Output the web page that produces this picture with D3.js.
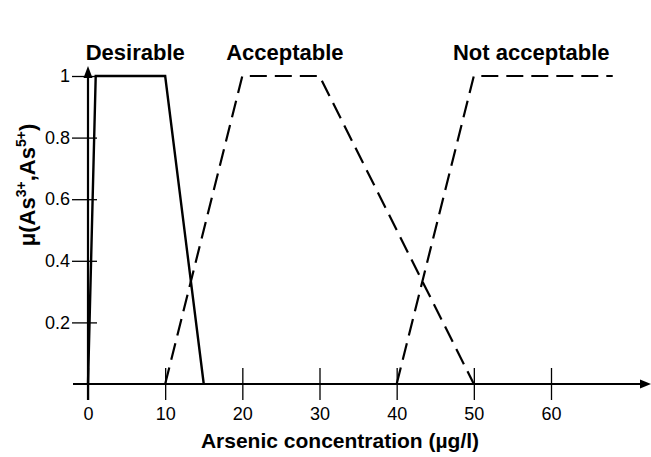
<!DOCTYPE html>
<meta charset="utf-8">
<style>
    body { margin: 0; background: #fff; }
    text { font-family: "Liberation Sans", Arial, sans-serif; fill: #000; }
    .tick text { font-size: 18px; }
    .lbl { font-size: 22px; font-weight: bold; }
</style>
<body>
<script src="https://cdn.jsdelivr.net/npm/d3@7"></script>
<script>

    // tick values and membership functions (As concentration, membership)
    var xTicks = [0, 10, 20, 30, 40, 50, 60],
        yTicks = [0.2, 0.4, 0.6, 0.8, 1];

    var desirable = [[0, 0], [1, 1], [10, 1], [15, 0]],
        acceptable = [[10, 0], [20, 1], [30, 1], [50, 0]],
        notAcceptable = [[40, 0], [50, 1], [68, 1]];

    var setNames = ["Desirable", "Acceptable", "Not acceptable"];

    var width = 651, height = 457;

    var x = d3.scaleLinear().domain([0, 60]).range([88, 551]),
        y = d3.scaleLinear().domain([0, 1]).range([384, 76]);

    var svg = d3.select("body").append("svg")
        .attr("width", width)
        .attr("height", height);

    // x axis: ticks cross the axis line
    var gx = svg.append("g")
        .attr("transform", "translate(0," + y(0) + ")")
        .call(d3.axisBottom(x).tickValues(xTicks).tickSize(0).tickPadding(0));
    gx.select(".domain").remove();
    gx.selectAll(".tick line").attr("y1", -16).attr("y2", 16)
        .attr("stroke", "#000").attr("stroke-width", 1.3);
    gx.selectAll(".tick text").attr("y", 36).attr("dy", null);

    // y axis
    var gy = svg.append("g")
        .attr("transform", "translate(" + x(0) + ",0)")
        .call(d3.axisLeft(y).tickValues(yTicks).tickSize(0).tickPadding(0)
            .tickFormat(function(d) { return d === 1 ? "1" : d3.format(".1f")(d); }));
    gy.select(".domain").remove();
    gy.selectAll(".tick line").attr("x1", -16).attr("x2", 9)
        .attr("stroke", "#000").attr("stroke-width", 1.3);
    gy.selectAll(".tick text").attr("x", -18);

    // axis lines with arrows
    svg.append("line")
        .attr("x1", 73).attr("x2", 642)
        .attr("y1", y(0)).attr("y2", y(0))
        .attr("stroke", "#000").attr("stroke-width", 2.2);
    svg.append("path")
        .attr("d", "M651," + y(0) + "L640," + (y(0) - 4.5) + "L640," + (y(0) + 4.5) + "Z");

    svg.append("line")
        .attr("x1", x(0)).attr("x2", x(0))
        .attr("y1", 400).attr("y2", 76)
        .attr("stroke", "#000").attr("stroke-width", 2.2);
    svg.append("path")
        .attr("d", "M" + x(0) + ",66L" + (x(0) - 4.5) + ",78L" + (x(0) + 4.5) + ",78Z");

    // membership functions
    var line = d3.line()
        .x(function(d) { return x(d[0]); })
        .y(function(d) { return y(d[1]); });

    svg.append("path").datum(desirable)
        .attr("d", line)
        .attr("fill", "none").attr("stroke", "#000").attr("stroke-width", 2.4);

    svg.append("path").datum(acceptable)
        .attr("d", line)
        .attr("fill", "none").attr("stroke", "#000").attr("stroke-width", 2.2)
        .attr("stroke-dasharray", "17,8");

    svg.append("path").datum(notAcceptable)
        .attr("d", line)
        .attr("fill", "none").attr("stroke", "#000").attr("stroke-width", 2.2)
        .attr("stroke-dasharray", "17,8");

    // set names above the plateaus
    var nameX = [-0.3, 17.9, 47.3];
    svg.selectAll(".set").data(setNames).enter().append("text")
        .attr("class", "lbl set")
        .attr("x", function(d, i) { return x(nameX[i]); })
        .attr("y", 60)
        .text(function(d) { return d; });

    // axis titles
    svg.append("text")
        .attr("class", "lbl")
        .attr("x", 340).attr("y", 448)
        .style("font-size", "21px")
        .attr("text-anchor", "middle")
        .text("Arsenic concentration (\u00b5g/l)");

    var yl = svg.append("text")
        .attr("class", "lbl")
        .attr("text-anchor", "middle")
        .attr("transform", "translate(35,185) rotate(-90)");
    yl.append("tspan").text("\u03bc(As");
    yl.append("tspan").attr("dy", -9).style("font-size", "14px").text("3+");
    yl.append("tspan").attr("dy", 9).text(",As");
    yl.append("tspan").attr("dy", -9).style("font-size", "14px").text("5+");
    yl.append("tspan").attr("dy", 9).text(")");

</script>
